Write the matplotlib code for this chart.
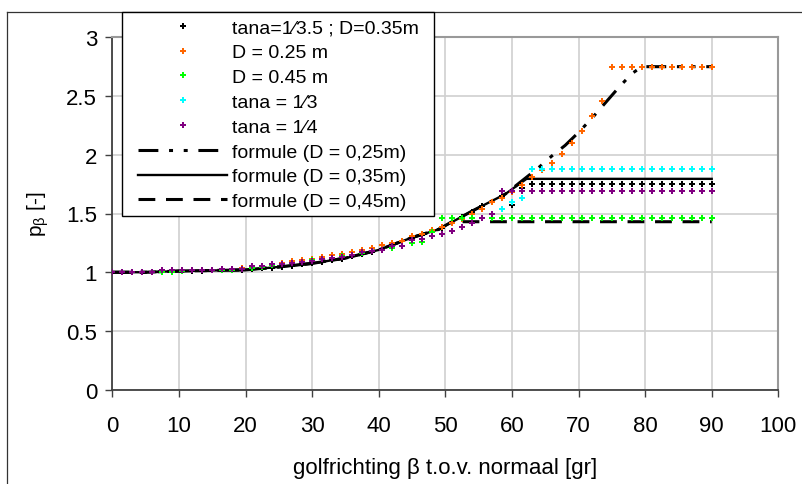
import matplotlib
matplotlib.use("Agg")
import matplotlib.pyplot as plt
from matplotlib.lines import Line2D
from matplotlib.patches import Rectangle

plt.rcParams['font.family'] = ['Liberation Sans', 'DejaVu Sans']
plt.rcParams['mathtext.fontset'] = 'custom'
plt.rcParams['mathtext.rm'] = 'Liberation Sans'
plt.rcParams['mathtext.it'] = 'Liberation Sans'

# ---- data ----
beta = [0, 1.5, 3, 4.5, 6, 7.5, 9, 10.5, 12, 13.5, 15, 16.5, 18, 19.5, 21, 22.5,
        24, 25.5, 27, 28.5, 30, 31.5, 33, 34.5, 36, 37.5, 39, 40.5, 42, 43.5, 45,
        46.5, 48, 49.5, 51, 52.5, 54, 55.5, 57, 58.5, 60, 61.5, 63, 64.5, 66, 67.5,
        69, 70.5, 72, 73.5, 75, 76.5, 78, 79.5, 81, 82.5, 84, 85.5, 87, 88.5, 90]

p_ref = [1.00, 1.00, 1.00, 1.00, 1.00, 1.005, 1.01, 1.01, 1.012, 1.014, 1.015, 1.017,
         1.018, 1.02, 1.025, 1.033, 1.04, 1.048, 1.057, 1.066, 1.075, 1.089, 1.102,
         1.116, 1.134, 1.155, 1.176, 1.20, 1.232, 1.264, 1.295, 1.321, 1.347, 1.375,
         1.42, 1.47, 1.515, 1.56, 1.60, 1.645, 1.575, 1.72, 1.755, 1.755, 1.755, 1.755,
         1.755, 1.755, 1.755, 1.755, 1.755, 1.755, 1.755, 1.755, 1.755, 1.755, 1.755,
         1.755, 1.755, 1.755, 1.755]

p_D025 = [1.00, 1.00, 1.00, 1.00, 1.00, 1.01, 1.01, 1.015, 1.015, 1.02, 1.02, 1.025,
          1.03, 1.035, 1.045, 1.055, 1.07, 1.08, 1.095, 1.10, 1.11, 1.13, 1.145, 1.155,
          1.17, 1.19, 1.205, 1.23, 1.25, 1.265, 1.305, 1.325, 1.36, 1.385, 1.42, 1.455,
          1.50, 1.54, 1.595, 1.635, 1.685, 1.745, 1.81, 1.87, 1.93, 2.005, 2.10, 2.20,
          2.33, 2.455, 2.75, 2.75, 2.75, 2.75, 2.75, 2.75, 2.75, 2.75, 2.75, 2.75, 2.75]

p_D045 = [1.00, 1.00, 1.00, 1.00, 1.00, 1.00, 1.00, 1.01, 1.015, 1.015, 1.015, 1.015,
          1.02, 1.025, 1.035, 1.045, 1.06, 1.07, 1.08, 1.09, 1.10, 1.11, 1.125, 1.135,
          1.15, 1.165, 1.18, 1.19, 1.21, 1.225, 1.25, 1.26, 1.34, 1.465, 1.465, 1.465,
          1.465, 1.465, 1.465, 1.465, 1.465, 1.465, 1.465, 1.465, 1.465, 1.465, 1.465,
          1.465, 1.465, 1.465, 1.465, 1.465, 1.465, 1.465, 1.465, 1.465, 1.465, 1.465,
          1.465, 1.465, 1.465]

p_tan3 = [1.00, 1.00, 1.00, 1.00, 1.00, 1.015, 1.015, 1.015, 1.015, 1.015, 1.015, 1.03,
          1.03, 1.03, 1.05, 1.05, 1.07, 1.07, 1.075, 1.09, 1.095, 1.11, 1.125, 1.13,
          1.15, 1.17, 1.185, 1.19, 1.225, 1.225, 1.275, 1.285, 1.305, 1.325, 1.355,
          1.385, 1.42, 1.46, 1.50, 1.54, 1.60, 1.635, 1.875, 1.875, 1.875, 1.875, 1.875,
          1.875, 1.875, 1.875, 1.875, 1.875, 1.875, 1.875, 1.875, 1.875, 1.875, 1.875,
          1.875, 1.875, 1.875]

p_tan4 = [1.00, 1.00, 1.00, 1.00, 1.00, 1.015, 1.015, 1.015, 1.015, 1.015, 1.015, 1.03,
          1.03, 1.03, 1.05, 1.05, 1.07, 1.07, 1.075, 1.09, 1.095, 1.11, 1.125, 1.13,
          1.15, 1.17, 1.185, 1.19, 1.225, 1.225, 1.275, 1.285, 1.305, 1.325, 1.355,
          1.385, 1.42, 1.46, 1.50, 1.695, 1.695, 1.695, 1.695, 1.695, 1.695, 1.695,
          1.695, 1.695, 1.695, 1.695, 1.695, 1.695, 1.695, 1.695, 1.695, 1.695, 1.695,
          1.695, 1.695, 1.695, 1.695]

# formula curves
f25_x = [0, 5, 10, 15, 20, 25, 30, 35, 40, 45, 49, 54, 59, 62, 64, 66, 68, 70, 72,
         74, 76, 78, 79.5, 90]
f25_y = [1.0, 1.0, 1.01, 1.015, 1.02, 1.045, 1.075, 1.12, 1.19, 1.295, 1.365, 1.52,
         1.665, 1.80, 1.89, 1.99, 2.08, 2.19, 2.31, 2.44, 2.57, 2.69, 2.75, 2.75]

f35_x = [0, 5, 10, 15, 20, 25, 30, 35, 40, 45, 49, 54, 59, 62.2, 90]
f35_y = [1.0, 1.0, 1.01, 1.015, 1.02, 1.045, 1.075, 1.12, 1.19, 1.295, 1.365, 1.52,
         1.665, 1.795, 1.795]

f45_x = [0, 5, 10, 15, 20, 25, 30, 35, 40, 45, 49, 51, 90]
f45_y = [1.0, 1.0, 1.01, 1.015, 1.02, 1.045, 1.075, 1.12, 1.19, 1.295, 1.365, 1.43,
         1.43]

labels = ["tana=1\u20443.5 ; D=0.35m", "D = 0.25 m", "D = 0.45 m",
          "tana = 1\u20443", "tana = 1\u20444",
          "formule (D = 0,25m)", "formule (D = 0,35m)", "formule (D = 0,45m)"]

W, H = 802, 485
fig = plt.figure(figsize=(W / 100, H / 100), dpi=100)
ax = fig.add_axes([112.3 / W, 1 - 390.7 / H, 666.0 / W, (390.7 - 38.3) / H])

lw_d = 2.2
h25, = ax.plot(f25_x, f25_y, color='black', lw=lw_d, dashes=(6.5, 3.5, 1.3, 3.5, 1.3, 3.5),
               zorder=2, label=labels[5])
h35, = ax.plot(f35_x, f35_y, color='black', lw=1.7, zorder=2, label=labels[6])
h45, = ax.plot(f45_x, f45_y, color='black', lw=lw_d, dashes=(5.5, 3.5), zorder=2,
               label=labels[7])

mk = dict(marker='P', linestyle='none', ms=3.8, markeredgewidth=0, zorder=3)
s1, = ax.plot(beta, p_ref, color='black', label=labels[0], **mk)
s2, = ax.plot(beta, p_D025, color='#FF6600', label=labels[1], **mk)
s3, = ax.plot(beta, p_D045, color='#00FF00', label=labels[2], **mk)
s4, = ax.plot(beta, p_tan3, color='#00FFFF', label=labels[3], **mk)
s5, = ax.plot(beta, p_tan4, color='#800080', label=labels[4], **mk)

ax.set_xlim(0, 100)
ax.set_ylim(0, 3)
ax.set_xticks(range(0, 101, 10))
ax.set_yticks([0, 0.5, 1, 1.5, 2, 2.5, 3])
ax.set_yticklabels(['0', '0.5', '1', '1.5', '2', '2.5', '3'])
ax.grid(True, color='#d0d0d0', lw=1.2, zorder=0)
ax.set_axisbelow(True)
for s in ['left', 'bottom']:
    ax.spines[s].set_color('#404040')
    ax.spines[s].set_linewidth(1.3)
for s in ['top', 'right']:
    ax.spines[s].set_color('#999999')
    ax.spines[s].set_linewidth(1.5)
ax.tick_params(axis='both', direction='out', length=5, width=1, color='#404040',
               labelsize=16)
ax.tick_params(axis='x', pad=13)
ax.tick_params(axis='y', pad=6)

ax.set_xlabel("golfrichting \u03b2 t.o.v. normaal [gr]", fontsize=16, labelpad=15)
ax.set_ylabel(r"p$_{\beta}$ [-]", fontsize=15, labelpad=11)

# legend box
fig.add_artist(Rectangle((122 / W, 1 - 217 / H), (434 - 122) / W, (217 - 13) / H,
                         transform=fig.transFigure, facecolor='white',
                         edgecolor='black', lw=1.0, zorder=4))
leg = fig.legend(handles=[s1, s2, s3, s4, s5, h25, h35, h45], labels=labels,
                 loc='upper left', bbox_to_anchor=(138 / W, 1 - 20 / H),
                 frameon=False, borderpad=0, borderaxespad=0, fontsize=14,
                 handlelength=4.6, handletextpad=0.26, labelspacing=0.37,
                 markerscale=1.0)
leg.set_zorder(5)

# outer frame
fig.add_artist(Line2D([7 / W, 7 / W], [0, 1 - 13 / H], transform=fig.transFigure,
                      color='#333333', lw=0.9))
fig.add_artist(Line2D([7 / W, 1], [1 - 13 / H, 1 - 13 / H], transform=fig.transFigure,
                      color='#333333', lw=0.9))

fig.savefig("out.png", dpi=100)
